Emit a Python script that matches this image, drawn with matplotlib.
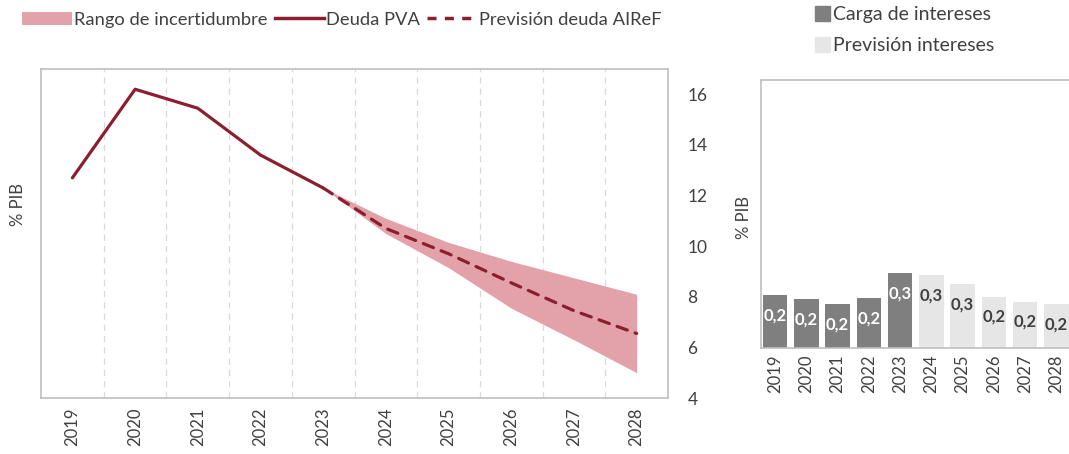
import matplotlib.pyplot as plt
from matplotlib.patches import Patch
from matplotlib.lines import Line2D

plt.rcParams['font.family'] = ['Lato', 'DejaVu Sans']

# datos
anios = ['2019', '2020', '2021', '2022', '2023', '2024', '2025', '2026', '2027', '2028']
deuda_pva = [12.7, 16.2, 15.45, 13.6, 12.3]              # 2019-2023
prevision_airef = [12.3, 10.7, 9.7, 8.55, 7.45, 6.55]    # 2023-2028
rango_sup = [12.3, 11.1, 10.15, 9.4, 8.75, 8.1]
rango_inf = [12.3, 10.5, 9.15, 7.55, 6.3, 5.0]

carga_intereses = [0.21, 0.195, 0.175, 0.2, 0.3]         # 2019-2023
prevision_intereses = [0.29, 0.255, 0.205, 0.185, 0.175] # 2024-2028

rojo = '#8B1F2E'
rosa = '#E3A2AA'
gris_osc = '#7F7F7F'
gris_cla = '#E6E6E6'
gris_borde = '#BFBFBF'
texto = '#404040'

fig = plt.figure(figsize=(10.69, 4.54), dpi=100)

# grafico izquierdo: deuda
ax = fig.add_axes([0.0384, 0.1233, 0.5865, 0.7247])
x_hist = list(range(len(deuda_pva)))
x_prev = list(range(len(deuda_pva) - 1, len(anios)))
ax.fill_between(x_prev, rango_inf, rango_sup, color=rosa, lw=0, zorder=1)
ax.plot(x_hist, deuda_pva, color=rojo, lw=2.3, solid_capstyle='round', zorder=3)
ax.plot(x_prev, prevision_airef, color=rojo, lw=2.3, dashes=(3.4, 2.6),
        dash_capstyle='round', zorder=3)

for k in range(len(anios) - 1):
    ax.axvline(k + 0.5, color='#D9D9D9', lw=0.9, ls=(0, (5, 4)), zorder=0)

ax.set_xlim(-0.5, len(anios) - 0.5)
ax.set_ylim(4, 17)
ax.set_xticks(range(len(anios)))
ax.set_xticklabels(anios, rotation=90, fontsize=12, color=texto)
ax.set_yticks(range(4, 17, 2))
ax.yaxis.tick_right()
ax.tick_params(axis='y', labelsize=12.5, labelcolor=texto, length=0, pad=14)
ax.tick_params(axis='x', length=0, pad=7)
for s in ax.spines.values():
    s.set_color(gris_borde)
    s.set_linewidth(1.2)
fig.text(0.017, 0.55, '% PIB', rotation=90, ha='center', va='center', fontsize=12, color=texto)

handles = [Patch(color=rosa, lw=0),
           Line2D([], [], color=rojo, lw=2.5),
           Line2D([], [], color=rojo, lw=2.5, dashes=(2.6, 2.4))]
fig.legend(handles, ['Rango de incertidumbre', 'Deuda PVA', 'Previsión deuda AIReF'],
           loc='center left', bbox_to_anchor=(0.021, 0.957), ncol=3, frameon=False,
           fontsize=13.2, handlelength=2.7, handletextpad=0.1, columnspacing=0.4,
           labelcolor=texto, borderaxespad=0, borderpad=0)

# grafico derecho: intereses
ax2 = fig.add_axes([0.7119, 0.2335, 0.291, 0.590])
xb1 = list(range(len(carga_intereses)))
xb2 = list(range(len(carga_intereses), len(anios)))
b1 = ax2.bar(xb1, carga_intereses, width=0.78, color=gris_osc, zorder=2)
b2 = ax2.bar(xb2, prevision_intereses, width=0.78, color=gris_cla, zorder=2)
for barras, col in ((b1, 'white'), (b2, texto)):
    for b in barras:
        v = b.get_height()
        ax2.annotate(f'{v:.1f}'.replace('.', ','), (b.get_x() + b.get_width() / 2, v),
                     xytext=(0, -14.5), textcoords='offset points', ha='center', va='center',
                     fontsize=12, fontweight='bold', color=col)
ax2.set_xlim(-0.45, len(anios) - 0.5)
ax2.set_ylim(0, 1.07)
ax2.set_yticks([])
ax2.set_xticks(range(len(anios)))
ax2.set_xticklabels(anios, rotation=90, fontsize=12, color=texto)
ax2.tick_params(axis='x', length=0, pad=5)
for s in ax2.spines.values():
    s.set_color(gris_borde)
    s.set_linewidth(1.2)
fig.text(0.696, 0.52, '% PIB', rotation=90, ha='center', va='center', fontsize=12, color=texto)

fig.legend([Patch(color=gris_osc), Patch(color=gris_cla)],
           ['Carga de intereses', 'Previsión intereses'],
           loc='upper left', bbox_to_anchor=(0.762, 0.987), frameon=False,
           fontsize=14, handlelength=0.8, handleheight=0.8, handletextpad=0.15,
           labelspacing=0.7, labelcolor=texto, borderaxespad=0, borderpad=0)

fig.savefig('out.png', dpi=100)
